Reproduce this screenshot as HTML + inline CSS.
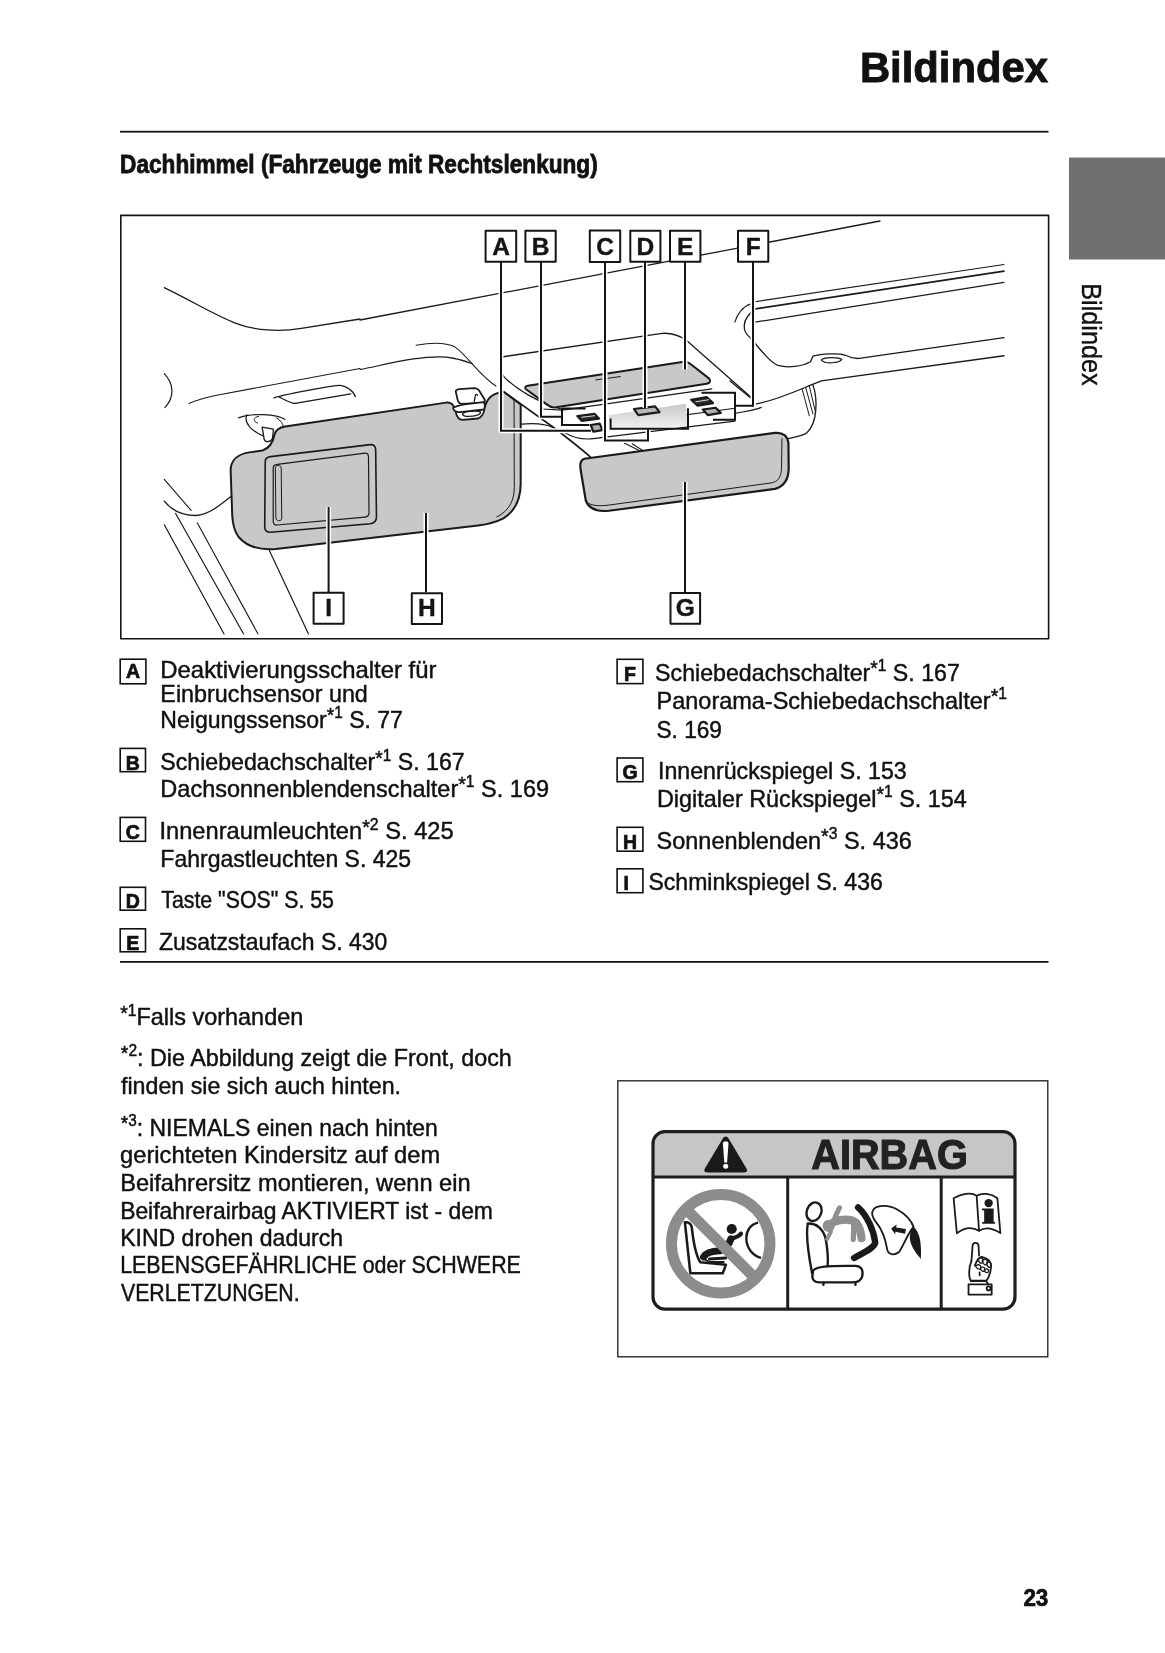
<!DOCTYPE html>
<html><head><meta charset="utf-8"><title>Bildindex</title>
<style>
html,body{margin:0;padding:0;background:#fff;}
body{width:1165px;height:1653px;overflow:hidden;position:relative;}
svg{position:absolute;left:0;top:0;display:block;will-change:transform;}
text{font-family:"Liberation Sans",sans-serif;}
</style></head><body>
<svg width="1165" height="1653" viewBox="0 0 1165 1653">
<rect x="0" y="0" width="1165" height="1653" fill="#fff"/>
<rect x="120" y="130.8" width="928.5" height="1.8" fill="#161616"/>
<rect x="1069" y="157.5" width="96" height="102" fill="#6e716e"/>
<text transform="translate(1082,0) rotate(90)" x="283.2" y="0" font-size="27" fill="#111" stroke="#111" stroke-width="0.4" textLength="102.5" lengthAdjust="spacingAndGlyphs">Bildindex</text>
<text x="859.90" y="81.80" font-weight="bold" fill="#111" stroke="#111" stroke-width="0.9" textLength="188.12" lengthAdjust="spacingAndGlyphs" ><tspan font-size="42.8">Bildindex</tspan></text><text x="120.10" y="172.80" font-weight="bold" fill="#111" stroke="#111" stroke-width="0.8" textLength="477.61" lengthAdjust="spacingAndGlyphs" ><tspan font-size="25">Dachhimmel (Fahrzeuge mit Rechtslenkung)</tspan></text><text x="160.35" y="677.90" font-weight="normal" fill="#111" stroke="#111" stroke-width="0.45" textLength="276.02" lengthAdjust="spacingAndGlyphs" ><tspan font-size="24">Deaktivierungsschalter für</tspan></text><text x="160.35" y="701.70" font-weight="normal" fill="#111" stroke="#111" stroke-width="0.45" textLength="207.48" lengthAdjust="spacingAndGlyphs" ><tspan font-size="24">Einbruchsensor und</tspan></text><text x="160.35" y="727.50" font-weight="normal" fill="#111" stroke="#111" stroke-width="0.45" textLength="242.56" lengthAdjust="spacingAndGlyphs" ><tspan font-size="24">Neigungssensor</tspan><tspan font-size="20" dy="-5.50">*</tspan><tspan font-size="16" dy="-4.00">1</tspan><tspan font-size="24" dy="9.50"> S. 77</tspan></text><text x="160.35" y="770.20" font-weight="normal" fill="#111" stroke="#111" stroke-width="0.45" textLength="304.36" lengthAdjust="spacingAndGlyphs" ><tspan font-size="24">Schiebedachschalter</tspan><tspan font-size="20" dy="-5.50">*</tspan><tspan font-size="16" dy="-4.00">1</tspan><tspan font-size="24" dy="9.50"> S. 167</tspan></text><text x="160.35" y="796.70" font-weight="normal" fill="#111" stroke="#111" stroke-width="0.45" textLength="388.71" lengthAdjust="spacingAndGlyphs" ><tspan font-size="24">Dachsonnenblendenschalter</tspan><tspan font-size="20" dy="-5.50">*</tspan><tspan font-size="16" dy="-4.00">1</tspan><tspan font-size="24" dy="9.50"> S. 169</tspan></text><text x="159.45" y="839.30" font-weight="normal" fill="#111" stroke="#111" stroke-width="0.45" textLength="294.21" lengthAdjust="spacingAndGlyphs" ><tspan font-size="24">Innenraumleuchten</tspan><tspan font-size="20" dy="-5.50">*</tspan><tspan font-size="16" dy="-4.00">2</tspan><tspan font-size="24" dy="9.50"> S. 425</tspan></text><text x="160.35" y="866.70" font-weight="normal" fill="#111" stroke="#111" stroke-width="0.45" textLength="250.82" lengthAdjust="spacingAndGlyphs" ><tspan font-size="24">Fahrgastleuchten S. 425</tspan></text><text x="161.25" y="907.60" font-weight="normal" fill="#111" stroke="#111" stroke-width="0.45" textLength="172.68" lengthAdjust="spacingAndGlyphs" ><tspan font-size="24">Taste &quot;SOS&quot; S. 55</tspan></text><text x="159.05" y="949.80" font-weight="normal" fill="#111" stroke="#111" stroke-width="0.45" textLength="228.12" lengthAdjust="spacingAndGlyphs" ><tspan font-size="24">Zusatzstaufach S. 430</tspan></text><text x="655.10" y="680.60" font-weight="normal" fill="#111" stroke="#111" stroke-width="0.45" textLength="304.76" lengthAdjust="spacingAndGlyphs" ><tspan font-size="24">Schiebedachschalter</tspan><tspan font-size="20" dy="-5.50">*</tspan><tspan font-size="16" dy="-4.00">1</tspan><tspan font-size="24" dy="9.50"> S. 167</tspan></text><text x="656.55" y="708.90" font-weight="normal" fill="#111" stroke="#111" stroke-width="0.45" textLength="350.45" lengthAdjust="spacingAndGlyphs" ><tspan font-size="24">Panorama-Schiebedachschalter</tspan><tspan font-size="20" dy="-5.50">*</tspan><tspan font-size="16" dy="-4.00">1</tspan></text><text x="656.55" y="737.80" font-weight="normal" fill="#111" stroke="#111" stroke-width="0.45" textLength="65.34" lengthAdjust="spacingAndGlyphs" ><tspan font-size="24">S. 169</tspan></text><text x="658.00" y="779.30" font-weight="normal" fill="#111" stroke="#111" stroke-width="0.45" textLength="248.72" lengthAdjust="spacingAndGlyphs" ><tspan font-size="24">Innenrückspiegel S. 153</tspan></text><text x="657.00" y="806.70" font-weight="normal" fill="#111" stroke="#111" stroke-width="0.45" textLength="309.76" lengthAdjust="spacingAndGlyphs" ><tspan font-size="24">Digitaler Rückspiegel</tspan><tspan font-size="20" dy="-5.50">*</tspan><tspan font-size="16" dy="-4.00">1</tspan><tspan font-size="24" dy="9.50"> S. 154</tspan></text><text x="656.55" y="848.60" font-weight="normal" fill="#111" stroke="#111" stroke-width="0.45" textLength="255.31" lengthAdjust="spacingAndGlyphs" ><tspan font-size="24">Sonnenblenden</tspan><tspan font-size="20" dy="-5.50">*</tspan><tspan font-size="16" dy="-4.00">3</tspan><tspan font-size="24" dy="9.50"> S. 436</tspan></text><text x="648.50" y="889.80" font-weight="normal" fill="#111" stroke="#111" stroke-width="0.45" textLength="234.25" lengthAdjust="spacingAndGlyphs" ><tspan font-size="24">Schminkspiegel S. 436</tspan></text><text x="120.20" y="1025.00" font-weight="normal" fill="#111" stroke="#111" stroke-width="0.45" textLength="183.03" lengthAdjust="spacingAndGlyphs" ><tspan font-size="20" dy="-5.50">*</tspan><tspan font-size="16" dy="-4.00">1</tspan><tspan font-size="24" dy="9.50">Falls vorhanden</tspan></text><text x="120.80" y="1065.80" font-weight="normal" fill="#111" stroke="#111" stroke-width="0.45" textLength="391.05" lengthAdjust="spacingAndGlyphs" ><tspan font-size="20" dy="-5.50">*</tspan><tspan font-size="16" dy="-4.00">2</tspan><tspan font-size="24" dy="9.50">: Die Abbildung zeigt die Front, doch</tspan></text><text x="121.00" y="1093.70" font-weight="normal" fill="#111" stroke="#111" stroke-width="0.45" textLength="280.04" lengthAdjust="spacingAndGlyphs" ><tspan font-size="24">finden sie sich auch hinten.</tspan></text><text x="120.80" y="1135.80" font-weight="normal" fill="#111" stroke="#111" stroke-width="0.45" textLength="317.08" lengthAdjust="spacingAndGlyphs" ><tspan font-size="20" dy="-5.50">*</tspan><tspan font-size="16" dy="-4.00">3</tspan><tspan font-size="24" dy="9.50">: NIEMALS einen nach hinten</tspan></text><text x="120.10" y="1162.80" font-weight="normal" fill="#111" stroke="#111" stroke-width="0.45" textLength="320.09" lengthAdjust="spacingAndGlyphs" ><tspan font-size="24">gerichteten Kindersitz auf dem</tspan></text><text x="120.15" y="1191.10" font-weight="normal" fill="#111" stroke="#111" stroke-width="0.45" textLength="350.50" lengthAdjust="spacingAndGlyphs" ><tspan font-size="24">Beifahrersitz montieren, wenn ein</tspan></text><text x="120.15" y="1218.70" font-weight="normal" fill="#111" stroke="#111" stroke-width="0.45" textLength="372.75" lengthAdjust="spacingAndGlyphs" ><tspan font-size="24">Beifahrerairbag AKTIVIERT ist - dem</tspan></text><text x="120.15" y="1245.80" font-weight="normal" fill="#111" stroke="#111" stroke-width="0.45" textLength="222.95" lengthAdjust="spacingAndGlyphs" ><tspan font-size="24">KIND drohen dadurch</tspan></text><text x="120.15" y="1273.40" font-weight="normal" fill="#111" stroke="#111" stroke-width="0.45" textLength="400.72" lengthAdjust="spacingAndGlyphs" ><tspan font-size="24">LEBENSGEFÄHRLICHE oder SCHWERE</tspan></text><text x="120.95" y="1301.00" font-weight="normal" fill="#111" stroke="#111" stroke-width="0.45" textLength="178.62" lengthAdjust="spacingAndGlyphs" ><tspan font-size="24">VERLETZUNGEN.</tspan></text><text x="1023.40" y="1606.00" font-weight="bold" fill="#111" stroke="#111" stroke-width="0.7" textLength="24.94" lengthAdjust="spacingAndGlyphs" ><tspan font-size="23.5">23</tspan></text>
<rect x="120.20" y="659.20" width="25.70" height="24.60" fill="none" stroke="#111" stroke-width="1.6"/><text x="133.05" y="677.90" font-size="19.5" font-weight="bold" text-anchor="middle" fill="#111" stroke="#111" stroke-width="0.7">A</text><rect x="120.20" y="748.40" width="25.30" height="23.30" fill="none" stroke="#111" stroke-width="1.6"/><text x="132.85" y="770.20" font-size="19.5" font-weight="bold" text-anchor="middle" fill="#111" stroke="#111" stroke-width="0.7">B</text><rect x="120.20" y="817.40" width="25.30" height="23.90" fill="none" stroke="#111" stroke-width="1.6"/><text x="132.85" y="839.30" font-size="19.5" font-weight="bold" text-anchor="middle" fill="#111" stroke="#111" stroke-width="0.7">C</text><rect x="120.20" y="887.30" width="25.30" height="22.90" fill="none" stroke="#111" stroke-width="1.6"/><text x="132.85" y="907.60" font-size="19.5" font-weight="bold" text-anchor="middle" fill="#111" stroke="#111" stroke-width="0.7">D</text><rect x="120.20" y="928.80" width="25.30" height="23.00" fill="none" stroke="#111" stroke-width="1.6"/><text x="132.85" y="949.80" font-size="19.5" font-weight="bold" text-anchor="middle" fill="#111" stroke="#111" stroke-width="0.7">E</text><rect x="617.10" y="659.30" width="25.80" height="24.30" fill="none" stroke="#111" stroke-width="1.6"/><text x="630.00" y="680.60" font-size="19.5" font-weight="bold" text-anchor="middle" fill="#111" stroke="#111" stroke-width="0.7">F</text><rect x="617.10" y="758.00" width="25.80" height="23.70" fill="none" stroke="#111" stroke-width="1.6"/><text x="630.00" y="779.30" font-size="19.5" font-weight="bold" text-anchor="middle" fill="#111" stroke="#111" stroke-width="0.7">G</text><rect x="617.10" y="827.30" width="25.80" height="23.90" fill="none" stroke="#111" stroke-width="1.6"/><text x="630.00" y="848.60" font-size="19.5" font-weight="bold" text-anchor="middle" fill="#111" stroke="#111" stroke-width="0.7">H</text><rect x="617.10" y="868.80" width="25.80" height="23.90" fill="none" stroke="#111" stroke-width="1.6"/><text x="626.30" y="889.80" font-size="19.5" font-weight="bold" text-anchor="middle" fill="#111" stroke="#111" stroke-width="0.7">I</text>
<rect x="120" y="961" width="928.5" height="1.8" fill="#161616"/>
<g id="diagram" fill="none" stroke="#1a1a1a" stroke-linecap="round" stroke-linejoin="round">
<rect x="120.8" y="215.4" width="927.8" height="423.3" stroke="#141414" stroke-width="1.6"/>
<!-- roof line -->
<path d="M360,320 L880,221" stroke-width="1.3"/>
<!-- R1 -->
<g transform="translate(120,250) scale(0.20601)">
<path vector-effect="non-scaling-stroke" stroke-width="1.3" d="M215,183 C380,265 470,320 560,355 C650,392 780,398 880,380 L1165,335"/>
<path vector-effect="non-scaling-stroke" stroke-width="1.2" d="M215,600 C262,650 266,715 218,765"/>
<path vector-effect="non-scaling-stroke" stroke-width="1.1" d="M335,745 C380,725 420,715 470,705 L1165,575"/>
<path vector-effect="non-scaling-stroke" stroke-width="1.3" d="M748,718 C770,708 1040,655 1070,657 C1100,660 1135,685 1142,712"/>
<path vector-effect="non-scaling-stroke" stroke-width="1.3" d="M1120,698 L850,745 C830,745 795,725 770,712"/>
<path vector-effect="non-scaling-stroke" stroke-width="1.2" d="M575,815 C640,790 760,795 800,822"/>
<path vector-effect="non-scaling-stroke" stroke-width="1.2" d="M615,800 C600,840 640,880 700,905"/>
<path vector-effect="non-scaling-stroke" stroke-width="1" d="M672,808 C645,810 645,835 668,840"/>
<path vector-effect="non-scaling-stroke" stroke-width="1" d="M760,815 C780,825 790,845 795,860"/>
<path vector-effect="non-scaling-stroke" stroke-width="1.3" fill="#fff" d="M690,860 L700,920 C705,935 730,935 740,915 L745,870 Z"/>
</g>
<!-- R2 -->
<g transform="translate(360,215) scale(0.20601)">
<path vector-effect="non-scaling-stroke" stroke-width="1.1" d="M0,750 C150,720 300,680 420,690 C480,697 520,712 545,722"/>
<path vector-effect="non-scaling-stroke" stroke-width="1.1" d="M272,632 C340,620 410,615 460,640 C520,680 580,780 660,830"/>
</g>
<!-- R5 pillar -->
<g transform="translate(120,430) scale(0.20601)">
<path vector-effect="non-scaling-stroke" stroke-width="1.1" d="M215,240 L345,390"/>
<path vector-effect="non-scaling-stroke" stroke-width="1.3" d="M215,345 C250,390 300,415 370,415 C430,410 480,370 540,322"/>
<path vector-effect="non-scaling-stroke" stroke-width="1.2" d="M215,460 L505,990"/>
<path vector-effect="non-scaling-stroke" stroke-width="1.2" d="M270,405 L600,990"/>
<path vector-effect="non-scaling-stroke" stroke-width="1.1" d="M375,450 L670,990"/>
<path vector-effect="non-scaling-stroke" stroke-width="1.2" d="M725,585 L915,990"/>
</g>
<!-- R4 right roof -->
<g transform="translate(730,250) scale(0.24033)">
<path vector-effect="non-scaling-stroke" stroke-width="1.1" d="M105,215 L1140,60"/>
<path vector-effect="non-scaling-stroke" stroke-width="1.7" d="M105,245 L1140,88"/>
<path vector-effect="non-scaling-stroke" stroke-width="1.1" d="M20,300 C30,265 55,235 85,225"/>
<path vector-effect="non-scaling-stroke" stroke-width="1.3" d="M85,365 C50,340 45,290 105,245"/>
<path vector-effect="non-scaling-stroke" stroke-width="1.2" d="M105,300 L1140,135"/>
<path vector-effect="non-scaling-stroke" stroke-width="1.3" d="M85,365 C130,420 170,470 200,480 C240,492 300,485 335,465 L345,442 C380,432 450,428 480,438 C500,448 520,455 545,450 L1140,365"/>
<path vector-effect="non-scaling-stroke" stroke-width="1.2" d="M380,458 C390,445 450,445 465,455 C455,472 395,475 380,458 Z"/>
<path vector-effect="non-scaling-stroke" stroke-width="1.3" d="M110,640 C200,625 300,575 380,545 L1140,440"/>
<path vector-effect="non-scaling-stroke" stroke-width="1" d="M300,578 L330,690 M315,572 L345,682 M330,566 L355,672"/>
<path vector-effect="non-scaling-stroke" stroke-width="1.3" d="M345,560 C365,620 365,720 320,760 C300,775 260,780 240,785"/>
<path vector-effect="non-scaling-stroke" stroke-width="1.2" d="M20,680 C60,672 100,668 130,655"/>
<path vector-effect="non-scaling-stroke" stroke-width="1.3" d="M0,545 L85,615"/>
</g>
<!-- console -->
<g transform="translate(480,340) scale(0.25753)">
<path vector-effect="non-scaling-stroke" stroke-width="1.3" d="M90,65 L700,-25 C740,-30 770,-20 800,0 L1058,227"/>
<path vector-effect="non-scaling-stroke" stroke-width="1.3" d="M90,65 C72,85 70,115 95,145 C140,190 220,240 320,270"/>
<path vector-effect="non-scaling-stroke" stroke-width="2" fill="#c8c8c8" d="M185,178 L785,85 C800,83 812,88 820,95 L890,150 C898,160 892,168 880,170 L290,262 C278,264 270,258 262,252 L180,192 C172,186 175,180 185,178 Z"/>
<path vector-effect="non-scaling-stroke" stroke-width="1" d="M450,155 L545,142"/>
<path vector-effect="non-scaling-stroke" stroke-width="1.2" d="M240,268 L320,272 L900,190"/>
<path vector-effect="non-scaling-stroke" stroke-width="1.2" d="M560,323 L990,265"/>
<path vector-effect="non-scaling-stroke" stroke-width="1.2" d="M330,360 C360,378 400,388 440,383 L990,315"/>
<defs><linearGradient id="lg1" x1="0" y1="0" x2="0" y2="1"><stop offset="0" stop-color="#c8c8c8"/><stop offset="1" stop-color="#f4f4f4"/></linearGradient></defs><path stroke="none" fill="url(#lg1)" d="M500,292 L800,248 L805,332 L505,352 Z"/>
<path vector-effect="non-scaling-stroke" stroke-width="2.2" fill="#2a2a2a" d="M378,295 L445,287 L462,305 L395,314 Z"/><path vector-effect="non-scaling-stroke" stroke="#ddd" stroke-width="1" d="M395,300 L445,294"/>
<path vector-effect="non-scaling-stroke" stroke-width="2.2" fill="#b0b0b0" d="M430,330 L465,325 L475,350 L440,356 Z"/>
<path vector-effect="non-scaling-stroke" stroke-width="2.2" fill="#b8b8b8" d="M598,268 L680,258 L697,280 L615,292 Z"/>
<path vector-effect="non-scaling-stroke" stroke-width="2.2" fill="#2a2a2a" d="M820,232 L880,222 L905,245 L845,255 Z"/><path vector-effect="non-scaling-stroke" stroke="#ddd" stroke-width="1" d="M838,240 L888,232"/>
<path vector-effect="non-scaling-stroke" stroke-width="2.2" fill="#b0b0b0" d="M865,270 L915,263 L935,283 L885,292 Z"/>
<path vector-effect="non-scaling-stroke" stroke-width="1.1" d="M560,400 L620,430"/>
</g>
<!-- visor -->
<g transform="translate(220,380) scale(0.26610)">
<path vector-effect="non-scaling-stroke" stroke-width="2" fill="#c8c8c8" d="M160,265 C190,255 200,230 205,205 C210,185 225,178 245,175 L850,85 C870,83 878,95 882,108 C890,130 905,140 935,140 C965,140 985,125 995,100 C1005,70 1020,50 1066,44 L1130,92 L1130,390 C1130,450 1105,495 1065,520 C1030,538 1000,543 970,547 L210,635 C150,640 100,625 70,590 C55,570 48,545 46,510 L40,340 C40,300 70,278 110,272 Z"/>
<path vector-effect="non-scaling-stroke" stroke-width="1" d="M1105,72 L1106,400 C1106,450 1090,490 1040,515"/>
<path vector-effect="non-scaling-stroke" stroke-width="1.6" d="M170,305 C170,293 178,290 190,288 L565,243 C578,242 585,250 585,262 L588,515 C588,530 580,538 565,540 L190,572 C178,573 168,566 168,552 Z"/>
<path vector-effect="non-scaling-stroke" stroke-width="1.2" d="M200,330 C200,322 205,318 215,317 L545,275 C553,274 558,280 558,288 L560,500 C560,508 555,514 545,515 L215,545 C206,546 200,540 200,532 Z"/>
<path vector-effect="non-scaling-stroke" stroke-width="1" d="M208,330 C208,318 230,318 230,330 L232,520 C232,532 210,532 210,520 Z"/>
</g>
<!-- visor clip -->
<g transform="translate(430,370) scale(0.085837)" fill="#fff" stroke="#1a1a1a">
<path vector-effect="non-scaling-stroke" stroke-width="1.8" d="M300,250 C300,235 320,225 340,222 L520,210 C545,210 560,220 570,235 L640,350 C640,370 630,380 610,382 L370,395 C350,395 335,380 325,360 Z"/>
<path vector-effect="non-scaling-stroke" stroke-width="1.3" fill="none" d="M515,365 L530,290 C535,280 550,285 555,295"/>
<path vector-effect="non-scaling-stroke" stroke-width="1.8" d="M300,490 C310,540 340,580 380,580 L560,565 C600,550 630,500 635,450 L630,420 L300,450 Z"/>
<path vector-effect="non-scaling-stroke" stroke-width="1.8" d="M270,440 C300,420 350,410 400,400 L620,375 C640,380 645,420 630,460 L350,490 C300,495 270,470 270,440 Z"/>
<path vector-effect="non-scaling-stroke" stroke-width="1.3" d="M380,510 C400,480 560,470 590,490 C590,525 520,545 420,540 C390,535 378,525 380,510 Z"/>
</g>
<path stroke-width="1.6" d="M503.6,391.6 L555,428.5 C570,440 580,448 590.3,456.8"/>
<path stroke-width="1.3" d="M521.6,424.2 C530,423 546.5,423 555,428.5"/>


<!-- mirror -->
<g transform="translate(560,400) scale(0.25753)">
<path vector-effect="non-scaling-stroke" stroke-width="2.2" fill="#c8c8c8" d="M95,228 L835,128 C865,125 885,140 887,170 L888,265 C888,310 870,335 835,345 L190,430 C140,435 110,420 100,390 L80,270 C76,245 82,232 95,228 Z"/>
<path vector-effect="non-scaling-stroke" stroke-width="1" d="M112,402 C130,412 160,412 190,408 L820,322 C845,318 858,300 860,270 L862,150"/>
<path vector-effect="non-scaling-stroke" stroke-width="1.1" d="M280,170 L320,195"/>
</g>
<!-- leaders -->
<g stroke="#fff" stroke-width="5" stroke-linecap="butt">
<path d="M501,262 V430.7 H591 M541,262 V416.7 H562 M605,262 V440.4 H648 V428.8 M645,262 V408 M685,262 V369.6 M753,262 V405.7 H735 M685,482 V592 M426,513 V592 M328.6,507 V592"/>
</g>
<g stroke="#141414" stroke-width="2" stroke-linecap="butt" stroke-linejoin="miter">
<path d="M501,262 V430.7 H591 M541,262 V416.7 H562 M605,262 V440.4 H648 V428.8 M645,262 V408 M685,262 V369.6 M753,262 V405.7 H735 M685,482 V592 M426,513 V592 M328.6,507 V592"/>
<path d="M585.6,408.6 H562 V425 H589.4"/>
<path d="M610.6,418.5 V428.8 H688 V408.2"/>
<path d="M701.5,392.8 H735 V419.8 H713"/>
</g>
<!-- label boxes -->
<g stroke="#141414" stroke-width="2" fill="#fff">
<rect x="485.6" y="230.8" width="30.6" height="31.0"/>
<rect x="525.4" y="230.8" width="30.3" height="31.0"/>
<rect x="589.8" y="230.5" width="30.4" height="31.5"/>
<rect x="630.3" y="230.8" width="30.1" height="31.0"/>
<rect x="670" y="230.8" width="30.4" height="31.0"/>
<rect x="738" y="230.8" width="30.3" height="31.0"/>
<rect x="313.6" y="592.7" width="30" height="31.1"/>
<rect x="411.8" y="593.2" width="30.2" height="30.7"/>
<rect x="670.5" y="592.9" width="29.6" height="30.9"/>
</g>
<g fill="#141414" stroke="#141414" stroke-width="0.4" font-weight="bold" font-size="24.5" text-anchor="middle">
<text x="501" y="254.5">A</text>
<text x="540.6" y="254.5">B</text>
<text x="605" y="254.5">C</text>
<text x="645.4" y="254.5">D</text>
<text x="685.2" y="254.5">E</text>
<text x="753.2" y="254.5">F</text>
<text x="328.6" y="616.4">I</text>
<text x="426.9" y="616.4">H</text>
<text x="685.3" y="616.4">G</text>
</g>
</g>

<g id="airbag">
<rect x="617.8" y="1080.8" width="430" height="276" fill="none" stroke="#1a1a1a" stroke-width="1.3"/>
<defs><clipPath id="lblclip"><rect x="653" y="1131.7" width="362" height="177.4" rx="12"/></clipPath></defs>
<rect x="653" y="1131.7" width="362" height="45.3" fill="#c6c6c6" clip-path="url(#lblclip)"/>
<rect x="653" y="1131.7" width="362" height="177.4" rx="12" fill="none" stroke="#1e1e1e" stroke-width="3.2"/>
<path d="M653,1177.1 H1015 M787.7,1177 V1309 M941.2,1177 V1309" stroke="#1e1e1e" stroke-width="3"/>
<path d="M722.8,1138.5 C724.2,1135.8 727.2,1135.8 728.6,1138.5 L746.5,1168.5 C747.9,1171 746.8,1172.4 744,1172.4 H707.4 C704.6,1172.4 703.5,1171 704.9,1168.5 Z" fill="#1a1a1a"/>
<path d="M722.9,1143.5 C722.9,1140.6 728.5,1140.6 728.5,1143.5 L727.1,1162.5 H724.3 Z" fill="#fff"/>
<circle cx="725.7" cy="1166.3" r="2.5" fill="#fff"/>
<text x="811.3" y="1168.5" font-size="42" font-weight="bold" fill="#222" stroke="#222" stroke-width="1.1" textLength="156.5" lengthAdjust="spacingAndGlyphs">AIRBAG</text>
<!-- panel 1 -->
<g transform="translate(655,1178) scale(0.11587)">
<circle cx="567" cy="567" r="425" fill="none" stroke="#8c8c8c" stroke-width="95"/>
<path d="M258,382 C290,378 312,392 318,430 C332,560 360,680 392,728 L612,748 L585,822 L305,822 Z" fill="none" stroke="#1a1a1a" stroke-width="22" stroke-linejoin="round"/>
<path d="M410,690 L470,725 L600,725" fill="none" stroke="#1a1a1a" stroke-width="16"/>
<circle cx="662" cy="440" r="44" fill="#1a1a1a"/>
<path d="M420,680 C440,645 500,630 560,628 C610,612 640,570 655,525" fill="none" stroke="#1a1a1a" stroke-width="62" stroke-linecap="round"/>
<path d="M655,525 C690,515 730,500 742,480" fill="none" stroke="#1a1a1a" stroke-width="36" stroke-linecap="round"/>
<path d="M470,700 L610,690" fill="none" stroke="#1a1a1a" stroke-width="26" stroke-linecap="round"/>
<path d="M890,385 C820,400 788,460 788,520 C788,600 840,670 915,690" fill="none" stroke="#1a1a1a" stroke-width="20"/>
<line x1="285" y1="285" x2="850" y2="850" stroke="#8c8c8c" stroke-width="95"/>
</g>
<!-- panel 2 -->
<g transform="translate(788,1178) scale(0.13219)" fill="none" stroke="#1a1a1a" stroke-width="18" stroke-linecap="round" stroke-linejoin="round">
<ellipse cx="197" cy="255" rx="55" ry="72" transform="rotate(20 197 255)"/>
<path d="M150,345 C210,340 265,380 285,460 C300,540 305,600 300,665"/>
<path d="M150,345 C135,420 155,580 182,720"/>
<path d="M190,700 C220,670 280,662 510,665 C560,668 568,700 562,740 C556,780 520,790 480,790 L240,790 C200,790 180,770 185,735 Z" fill="#fff"/>
<path d="M268,792 L268,808 M510,792 L510,808"/>
<circle cx="308" cy="362" r="46" fill="#8f8f8f" stroke="none"/>
<path d="M350,315 C362,280 378,250 390,225" stroke="#8f8f8f" stroke-width="38"/>
<path d="M352,330 C400,312 470,305 512,335 C540,365 552,415 556,455" stroke="#8f8f8f" stroke-width="62"/>
<path d="M498,350 L494,465" stroke="#8f8f8f" stroke-width="40"/>
<path d="M325,405 L296,462" stroke="#8f8f8f" stroke-width="30"/>
<path d="M530,222 C600,285 650,400 660,490 C650,530 580,560 500,605" stroke-width="48"/>
<path d="M640,250 C660,200 760,200 830,240 C900,280 935,330 950,370 C905,420 870,520 840,560 C800,590 760,580 750,540 C740,480 720,400 670,340 C640,300 630,270 640,250 Z" stroke-width="14"/>
<path d="M945,365 C990,400 1012,470 1005,612 C960,560 918,500 922,440 C926,400 935,380 945,365 Z" fill="#1a1a1a" stroke="none"/>
<path d="M780,382 L822,352 L818,374 L892,386 L886,422 L812,406 L812,428 Z" fill="#1a1a1a" stroke="none"/>
</g>
<!-- panel 3 -->
<g transform="translate(940,1178) scale(0.08104)" fill="none" stroke="#1a1a1a" stroke-width="22" stroke-linejoin="round" stroke-linecap="round">
<path d="M168,250 C260,200 380,170 452,218 L482,652 C400,600 300,612 208,682 Z"/>
<path d="M452,218 C520,180 630,190 708,250 L745,680 C650,618 560,600 482,652"/>
<circle cx="600" cy="310" r="52" fill="#1a1a1a" stroke="none"/>
<path d="M518,375 H662 V540 L680,545 V565 H520 V545 L545,540 V400 L518,398 Z" fill="#1a1a1a" stroke="none"/>
<path d="M388,1025 L402,835 C406,790 472,790 476,840 L482,955"/>
<path d="M388,1025 C352,1100 352,1230 382,1268 L572,1268 C612,1220 636,1120 628,1060 C620,1010 560,985 520,975"/>
<path d="M430,1080 C455,1010 480,975 520,975"/>
<path d="M470,1000 C500,970 540,990 530,1030 C520,1065 480,1060 470,1000 Z" stroke-width="16"/>
<path d="M520,1015 C555,990 595,1010 585,1050 C575,1085 530,1080 520,1015 Z" stroke-width="16"/>
<path d="M575,1045 C605,1025 640,1045 630,1085 C620,1115 580,1110 575,1045 Z" stroke-width="16"/>
<path d="M440,1090 C460,1060 500,1065 505,1100 C505,1130 470,1140 440,1090 Z" stroke-width="16"/>
<path d="M495,1120 C515,1090 555,1095 555,1130 C552,1160 515,1160 495,1120 Z" stroke-width="16"/>
<path d="M545,1140 C565,1110 605,1115 600,1150 C595,1175 560,1175 545,1140 Z" stroke-width="16"/>
<path d="M490,1200 L488,1165"/>
<path d="M380,1272 H562 M570,1268 L592,1310"/>
<rect x="352" y="1312" width="286" height="126"/>
<circle cx="600" cy="1362" r="24"/>
</g>
</g>

</svg>
</body></html>
